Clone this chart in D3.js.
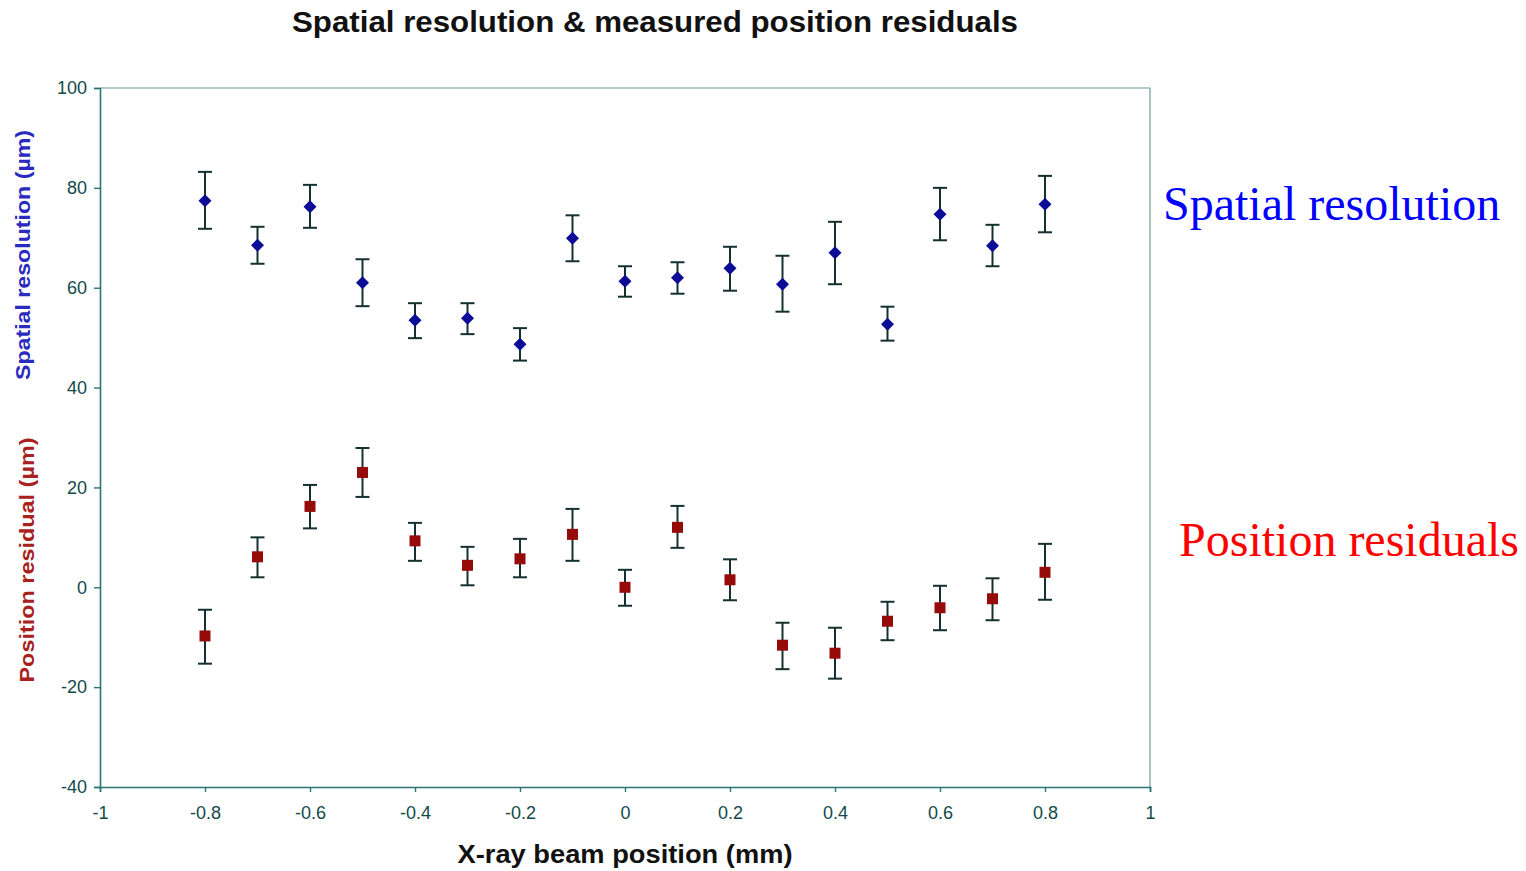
<!DOCTYPE html>
<html><head><meta charset="utf-8">
<script src="https://cdn.jsdelivr.net/npm/d3@7"></script>
<style>body{margin:0;background:#fff}svg{display:block}</style>
</head><body><svg id="c" width="1526" height="871"></svg>
<script>
const positions = [-0.8,-0.7,-0.6,-0.5,-0.4,-0.3,-0.2,-0.1,0,0.1,0.2,0.3,0.4,0.5,0.6,0.7,0.8];
const resValue = [77.4,68.5,76.2,61.0,53.5,53.9,48.7,69.9,61.3,62.0,63.9,60.7,67.0,52.7,74.7,68.4,76.7];
const resLow   = [71.8,64.8,72.0,56.3,49.9,50.7,45.4,65.3,58.2,58.8,59.4,55.2,60.7,49.4,69.5,64.3,71.1];
const resHigh  = [83.2,72.2,80.6,65.7,56.9,56.9,51.9,74.5,64.3,65.1,68.2,66.4,73.2,56.2,80.0,72.6,82.4];
const posValue = [-9.75,6.1,16.2,23.0,9.3,4.4,5.7,10.6,0.0,12.0,1.5,-11.6,-13.2,-6.8,-4.1,-2.3,3.0];
const posLow   = [-15.3,2.0,11.8,18.1,5.3,0.4,2.0,5.3,-3.7,7.9,-2.6,-16.4,-18.3,-10.6,-8.6,-6.6,-2.5];
const posHigh  = [-4.5,10.0,20.5,27.9,12.9,8.1,9.7,15.7,3.5,16.3,5.6,-7.1,-8.1,-2.9,0.3,1.8,8.7];
const xTicks = [-1,-0.8,-0.6,-0.4,-0.2,0,0.2,0.4,0.6,0.8,1];
const yTicks = [-40,-20,0,20,40,60,80,100];

const svg = d3.select('#c');
const L=100,R=1150,T=88,B=787;
const x = d3.scaleLinear().domain([-1,1]).range([L,R]);
const y = d3.scaleLinear().domain([-40,100]).range([B,T]);
const axisCol = '#2a7474', labelCol = '#124a4a';

svg.append('path').attr('d',`M${L},${T}H${R}V${B}`).attr('fill','none').attr('stroke','#6f9a9a').attr('stroke-width',1.2);

const xa = svg.append('g').attr('transform',`translate(0,${B})`)
  .call(d3.axisBottom(x).tickValues(xTicks).tickSize(5).tickPadding(14).tickFormat(d=>String(d)));
const ya = svg.append('g').attr('transform',`translate(${L},0)`)
  .call(d3.axisLeft(y).tickValues(yTicks).tickSize(6).tickPadding(7).tickFormat(d=>String(d)));
[xa,ya].forEach(a=>{
  a.attr('font-size',18).attr('font-family','Liberation Sans, Arial, sans-serif');
  a.select('.domain').attr('stroke',axisCol).attr('stroke-width',1.6);
  a.selectAll('.tick line').attr('stroke',axisCol).attr('stroke-width',1.4);
  a.selectAll('.tick text').attr('fill',labelCol).attr('font-size',18);
});

function series(vals,lo,hi,kind,color){
  const g = svg.append('g');
  const cap = 7;
  positions.forEach((p,i)=>{
    const cx=x(p);
    g.append('line').attr('x1',cx).attr('x2',cx).attr('y1',y(lo[i])).attr('y2',y(hi[i])).attr('stroke','#143030').attr('stroke-width',2);
    [lo[i],hi[i]].forEach(v=>g.append('line').attr('x1',cx-cap).attr('x2',cx+cap).attr('y1',y(v)).attr('y2',y(v)).attr('stroke','#143030').attr('stroke-width',2));
    const cy=y(vals[i]);
    if(kind==='diamond'){
      const s=6.5;
      g.append('path').attr('d',`M${cx},${cy-s}L${cx+s},${cy}L${cx},${cy+s}L${cx-s},${cy}Z`).attr('fill',color);
    } else {
      const s=5.5;
      g.append('rect').attr('x',cx-s).attr('y',cy-s).attr('width',2*s).attr('height',2*s).attr('fill',color);
    }
  });
}
series(resValue,resLow,resHigh,'diamond','#0c0c96');
series(posValue,posLow,posHigh,'square','#960a0a');

const sans='Liberation Sans, Arial, sans-serif';
svg.append('text').attr('x',655).attr('y',32).attr('text-anchor','middle').attr('font-family',sans).attr('font-weight','bold').attr('font-size',29).attr('textLength',726).attr('lengthAdjust','spacingAndGlyphs').attr('fill','#111').text('Spatial resolution & measured position residuals');
svg.append('text').attr('x',625).attr('y',863).attr('text-anchor','middle').attr('font-family',sans).attr('font-weight','bold').attr('font-size',26).attr('textLength',335).attr('lengthAdjust','spacingAndGlyphs').attr('fill','#111').text('X-ray beam position (mm)');
svg.append('text').attr('transform','translate(30,255) rotate(-90)').attr('text-anchor','middle').attr('font-family',sans).attr('font-weight','bold').attr('font-size',21).attr('textLength',250).attr('lengthAdjust','spacingAndGlyphs').attr('fill','#2a2ac0').text('Spatial resolution (µm)');
svg.append('text').attr('transform','translate(34,560) rotate(-90)').attr('text-anchor','middle').attr('font-family',sans).attr('font-weight','bold').attr('font-size',21).attr('textLength',245).attr('lengthAdjust','spacingAndGlyphs').attr('fill','#a82020').text('Position residual (µm)');
const serif='Liberation Serif, Times New Roman, serif';
svg.append('text').attr('x',1163).attr('y',220).attr('font-family',serif).attr('font-size',48).attr('fill','#0000ff').text('Spatial resolution');
svg.append('text').attr('x',1179).attr('y',556).attr('font-family',serif).attr('font-size',48).attr('fill','#ff0000').text('Position residuals');
</script></body></html>
